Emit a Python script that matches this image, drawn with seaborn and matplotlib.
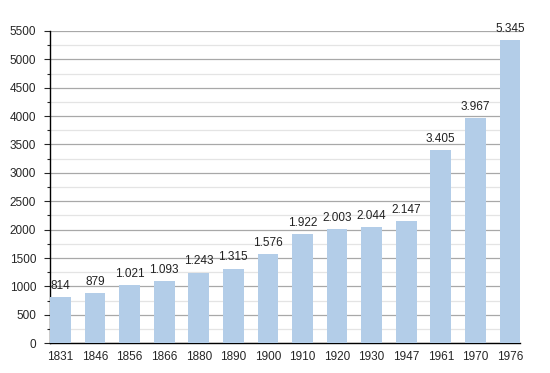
import numpy as np
import pandas as pd
import seaborn as sns
import matplotlib.pyplot as plt
from matplotlib.ticker import MultipleLocator

years = ['1831', '1846', '1856', '1866', '1880', '1890', '1900',
         '1910', '1920', '1930', '1947', '1961', '1970', '1976']
population = [814, 879, 1021, 1093, 1243, 1315, 1576,
              1922, 2003, 2044, 2147, 3405, 3967, 5345]

data = pd.DataFrame({'year': years, 'pop': population})

sns.set_style('white')
plt.rcParams['font.family'] = ['Liberation Sans', 'DejaVu Sans']

fig = plt.figure(figsize=(5.5, 3.73), dpi=100)
ax = fig.add_axes([0.091, 0.080, 0.855, 0.837])

sns.barplot(x='year', y='pop', data=data, color='#b3cde8', saturation=1,
            width=0.6, linewidth=0, ax=ax, zorder=3)

ax.set_ylim(0, 5500)
ax.set_xlim(-0.3, len(years) - 0.7)
ax.yaxis.set_major_locator(MultipleLocator(500))
ax.yaxis.set_minor_locator(MultipleLocator(250))
ax.grid(axis='y', which='major', color='#a8a8a8', linewidth=0.9, zorder=0)
ax.grid(axis='y', which='minor', color='#e4e4e4', linewidth=0.9, zorder=0)
ax.set_axisbelow(True)

for s in ['top', 'right']:
    ax.spines[s].set_visible(False)
ax.spines['left'].set_color('black')
ax.spines['bottom'].set_color('black')
ax.spines['left'].set_linewidth(1)
ax.spines['bottom'].set_linewidth(1)

ax.tick_params(axis='y', which='major', left=True, length=4, width=0.8,
               labelsize=8.5, pad=6)
ax.tick_params(axis='y', which='minor', left=True, length=2.5, width=0.8)
ax.tick_params(axis='x', bottom=False, labelsize=8.5, pad=2)
ax.set_xlabel('')
ax.set_ylabel('')

for i, v in enumerate(population):
    lab = f'{v:,}'.replace(',', '.')
    ax.text(i, v + 90, lab, ha='center', va='bottom', fontsize=8.5,
            color='#222222')

plt.savefig('out.png', dpi=100)
